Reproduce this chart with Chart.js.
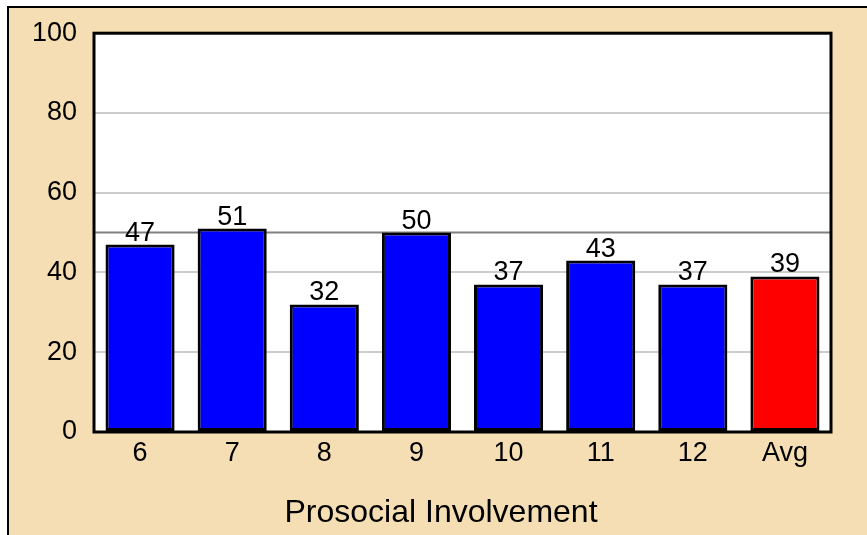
<!DOCTYPE html>
<html>
<head>
<meta charset="utf-8">
<script src="https://cdn.jsdelivr.net/npm/chart.js@4/dist/chart.umd.min.js"></script>
<style>
    html, body { margin: 0; padding: 0; background: #ffffff; overflow: hidden; }
    #cadre {
        position: absolute; left: 7px; top: 6px; width: 900px; height: 600px;
        border: 2px solid #000; background: #F5DEB3;
    }
    #zone { position: absolute; left: 0; top: 0; width: 867px; height: 535px; }
</style>
</head>
<body>
<div id="cadre"></div>
<div id="zone"><canvas id="barChart" width="867" height="535"></canvas></div>
<script>
// Données
const CATEGORIES = ['6', '7', '8', '9', '10', '11', '12', 'Avg'];
const VALEURS = [47, 51, 32, 50, 37, 43, 37, 39];
const COULEURS = ['#0000FF', '#0000FF', '#0000FF', '#0000FF', '#0000FF', '#0000FF', '#0000FF', '#FF0000'];
const Y_TICKS = [0, 20, 40, 60, 80, 100];
const LIGNE_REF = 50;
const TITRE_X = 'Prosocial Involvement';

const POLICE = "'Liberation Sans', Arial, sans-serif";

// Fond blanc, ligne de référence, cadre noir, étiquettes de valeur et titre
const decorPlugin = {
    id: 'decor',
    beforeDraw(chart) {
        const { ctx, chartArea: a } = chart;
        ctx.save();
        ctx.fillStyle = '#ffffff';
        ctx.fillRect(a.left, a.top, a.right - a.left, a.bottom - a.top);
        ctx.restore();
    },
    beforeDatasetsDraw(chart) {
        const { ctx, chartArea: a } = chart;
        const y = chart.scales.y.getPixelForValue(LIGNE_REF);
        ctx.save();
        ctx.strokeStyle = '#808080';
        ctx.lineWidth = 2;
        ctx.beginPath();
        ctx.moveTo(a.left, y);
        ctx.lineTo(a.right, y);
        ctx.stroke();
        ctx.restore();
    },
    afterDatasetsDraw(chart) {
        const { ctx, chartArea: a } = chart;
        ctx.save();
        ctx.fillStyle = '#000';
        ctx.font = '27px ' + POLICE;
        ctx.textAlign = 'center';
        ctx.textBaseline = 'alphabetic';
        chart.getDatasetMeta(0).data.forEach((bar, i) => {
            ctx.fillText(VALEURS[i], bar.x, bar.y - 4);
        });
        ctx.strokeStyle = '#000';
        ctx.lineWidth = 3;
        ctx.strokeRect(a.left, a.top, a.right - a.left, a.bottom - a.top);
        // titre de l'axe X (décalé à gauche comme dans l'original)
        ctx.font = '32px ' + POLICE;
        ctx.fillText(TITRE_X, 441, 522);
        ctx.restore();
    }
};

const ctx = document.getElementById('barChart').getContext('2d');
new Chart(ctx, {
    type: 'bar',
    data: {
        labels: CATEGORIES,
        datasets: [{
            data: VALEURS,
            backgroundColor: COULEURS,
            borderColor: '#000000',
            borderWidth: 3,
            borderSkipped: false,
            barPercentage: 0.75,
            categoryPercentage: 1.0
        }]
    },
    options: {
        responsive: false,
        animation: false,
        layout: { padding: { top: 32, right: 36, left: 0, bottom: 0 } },
        plugins: {
            legend: { display: false },
            tooltip: { enabled: false }
        },
        scales: {
            x: {
                grid: { display: false, drawTicks: false },
                border: { display: false },
                ticks: { color: '#000', font: { family: POLICE, size: 27 }, padding: 5 },
                afterFit(scale) { scale.height = 103; }
            },
            y: {
                min: 0,
                max: 100,
                afterBuildTicks(scale) { scale.ticks = Y_TICKS.map(v => ({ value: v })); },
                grid: {
                    drawTicks: false,
                    lineWidth: 2,
                    color: c => (c.tick && (c.tick.value === 0 || c.tick.value === 100)) ? 'rgba(0,0,0,0)' : '#cccccc'
                },
                border: { display: false },
                ticks: { color: '#000', font: { family: POLICE, size: 27 }, padding: 17 },
                afterFit(scale) { scale.width = 94; }
            }
        }
    },
    plugins: [decorPlugin]
});
</script>
</body>
</html>
